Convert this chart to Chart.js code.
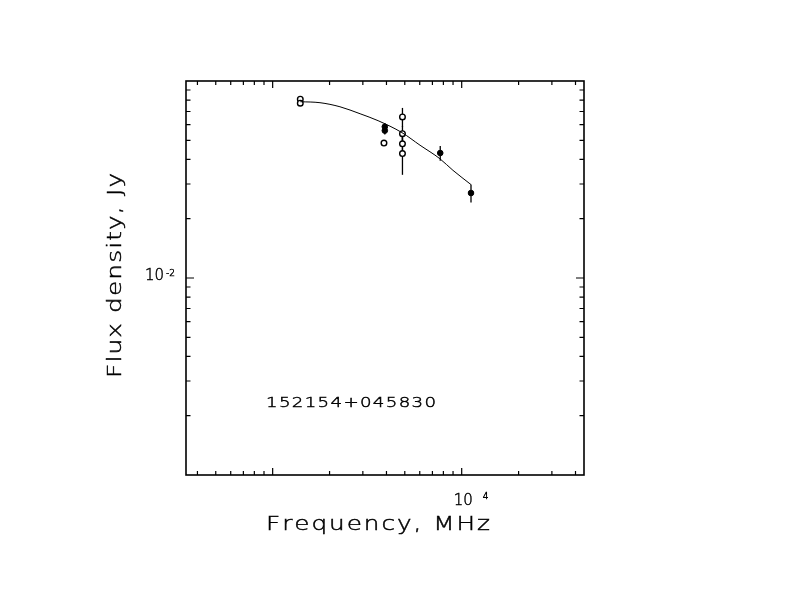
<!DOCTYPE html>
<html><head><meta charset="utf-8">
<script src="https://cdn.jsdelivr.net/npm/chart.js@4.4.1/dist/chart.umd.min.js"></script>
<style>html,body{margin:0;padding:0;background:#fff;}canvas{display:block;}</style>
</head><body>
<canvas id="c" width="792" height="612" style="width:792px;height:612px"></canvas>
<script>
// ---- data (frequency in MHz, flux density in Jy) ----
const fitFreq = [1400, 1780, 2270, 2900, 3610, 4830, 6020, 7670, 8990, 11200];
const fitFlux = [0.0785, 0.0776, 0.0740, 0.0682, 0.0629, 0.0547, 0.0472, 0.0403, 0.0352, 0.0298];

const openFreq = [1400, 1400, 3880, 4860, 4860, 4860, 4860];
const openFlux = [0.0809, 0.0772, 0.0484, 0.0657, 0.0540, 0.0480, 0.0428];
const openErr  = [0.0015, 0.0015, 0.0000, 0.0073, 0.0050, 0.0050, 0.0094];

const filledFreq = [3920, 3920, 7700, 11200];
const filledFlux = [0.0586, 0.0560, 0.0431, 0.0270];
const filledErr  = [0.0025, 0.0025, 0.0037, 0.0028];

// ---- axes ----
const xMin = 348, xMax = 44360;
const yMin = 0.001, yMax = 0.1;
const xMajorTicks = [1000, 10000];
const xMinorTicks = [400, 500, 600, 700, 800, 900, 2000, 3000, 4000, 5000, 6000, 7000, 8000, 9000, 20000, 30000, 40000];
const yMajorTicks = [0.01];
const yMinorTicks = [0.002, 0.003, 0.004, 0.005, 0.006, 0.007, 0.008, 0.009, 0.02, 0.03, 0.04, 0.05, 0.06, 0.07, 0.08, 0.09];

const xTitle = 'Frequency, MHz';
const yTitle = 'Flux density, Jy';
const sourceName = '152154+045830';

const FONT = '"DejaVu Sans", "Liberation Sans", sans-serif';

// draws text with glyphs widened horizontally and the remaining room spread between letters
function drawSpaced(ctx, text, x0, x1, y, size, stretch) {
  ctx.save();
  ctx.font = '200 ' + size + 'px ' + FONT;
  ctx.fillStyle = '#000';
  ctx.strokeStyle = '#000';
  ctx.lineWidth = 0.45;
  ctx.textAlign = 'left';
  ctx.textBaseline = 'alphabetic';
  const chars = [...text];
  const widths = chars.map(c => ctx.measureText(c).width * stretch);
  const total = widths.reduce((a, b) => a + b, 0);
  const extra = chars.length > 1 ? Math.max(0, (x1 - x0 - total) / (chars.length - 1)) : 0;
  let x = x0;
  chars.forEach((c, i) => {
    ctx.save();
    ctx.translate(x, y);
    ctx.scale(stretch, 1);
    ctx.fillText(c, 0, 0);
    ctx.strokeText(c, 0, 0);
    ctx.restore();
    x += widths[i] + extra;
  });
  ctx.restore();
}

const pts = (xs, ys) => xs.map((v, i) => ({x: v, y: ys[i]}));

const decorPlugin = {
  id: 'decor',
  beforeDatasetsDraw(chart) {
    const ctx = chart.ctx, xs = chart.scales.x, ys = chart.scales.y;
    ctx.save();
    ctx.strokeStyle = '#000';
    ctx.lineWidth = 1.3;
    const bars = (f, s, e) => f.forEach((v, i) => {
      if (!e[i]) return;
      const px = xs.getPixelForValue(v);
      ctx.beginPath();
      ctx.moveTo(px, ys.getPixelForValue(s[i] + e[i]));
      ctx.lineTo(px, ys.getPixelForValue(s[i] - e[i]));
      ctx.stroke();
    });
    bars(openFreq, openFlux, openErr);
    bars(filledFreq, filledFlux, filledErr);
    ctx.restore();
  },
  afterDraw(chart) {
    const ctx = chart.ctx, xs = chart.scales.x, ys = chart.scales.y;
    const a = chart.chartArea;
    ctx.save();
    ctx.strokeStyle = '#000';
    ctx.fillStyle = '#000';
    // frame
    ctx.lineWidth = 1.6;
    ctx.strokeRect(a.left, a.top, a.right - a.left, a.bottom - a.top);
    // ticks
    ctx.lineWidth = 1.2;
    const xt = (v, len) => {
      const p = xs.getPixelForValue(v);
      ctx.beginPath();
      ctx.moveTo(p, a.bottom); ctx.lineTo(p, a.bottom - len);
      ctx.moveTo(p, a.top); ctx.lineTo(p, a.top + len);
      ctx.stroke();
    };
    const yt = (v, len) => {
      const p = ys.getPixelForValue(v);
      ctx.beginPath();
      ctx.moveTo(a.left, p); ctx.lineTo(a.left + len, p);
      ctx.moveTo(a.right, p); ctx.lineTo(a.right - len, p);
      ctx.stroke();
    };
    xMinorTicks.forEach(v => xt(v, 4));
    xMajorTicks.forEach(v => xt(v, 7));
    yMinorTicks.forEach(v => yt(v, 4.5));
    yMajorTicks.forEach(v => yt(v, 8));
    ctx.restore();

    // tick labels
    const p4 = xs.getPixelForValue(10000);
    drawSpaced(ctx, '10', p4 - 8, p4 + 11, 505, 15, 1.0);
    drawSpaced(ctx, '4', p4 + 21, p4 + 26, 499, 9, 1.0);
    const pm2 = ys.getPixelForValue(0.01);
    drawSpaced(ctx, '10', 145, 163, pm2 + 2, 15, 1.0);
    drawSpaced(ctx, '-2', 166, 175, pm2 - 2, 9, 1.0);

    // axis titles
    drawSpaced(ctx, xTitle, 266, 490, 530, 19, 1.3);
    ctx.save();
    ctx.translate(121, 275.5);
    ctx.rotate(-Math.PI / 2);
    drawSpaced(ctx, yTitle, -102.5, 102.5, 0, 19, 1.3);
    ctx.restore();

    // source name
    drawSpaced(ctx, sourceName, 266, 436, 407, 14, 1.3);
  }
};

new Chart(document.getElementById('c'), {
  type: 'scatter',
  data: {
    datasets: [
      {
        data: pts(fitFreq, fitFlux),
        showLine: true,
        borderColor: '#000',
        borderWidth: 1,
        pointRadius: 0,
        cubicInterpolationMode: 'monotone'
      },
      {
        data: pts(openFreq, openFlux),
        pointStyle: 'circle',
        pointRadius: 2.8,
        backgroundColor: '#fff',
        borderColor: '#000',
        pointBorderWidth: 1.4
      },
      {
        data: pts(filledFreq, filledFlux),
        pointStyle: 'circle',
        pointRadius: 2.8,
        backgroundColor: '#000',
        borderColor: '#000',
        pointBorderWidth: 1
      }
    ]
  },
  options: {
    responsive: false,
    animation: false,
    devicePixelRatio: 1,
    layout: { padding: { left: 186, right: 208, top: 81, bottom: 137 } },
    plugins: { legend: { display: false }, tooltip: { enabled: false } },
    scales: {
      x: { type: 'logarithmic', min: xMin, max: xMax, display: false },
      y: { type: 'logarithmic', min: yMin, max: yMax, display: false }
    }
  },
  plugins: [decorPlugin]
});
</script>
</body></html>
